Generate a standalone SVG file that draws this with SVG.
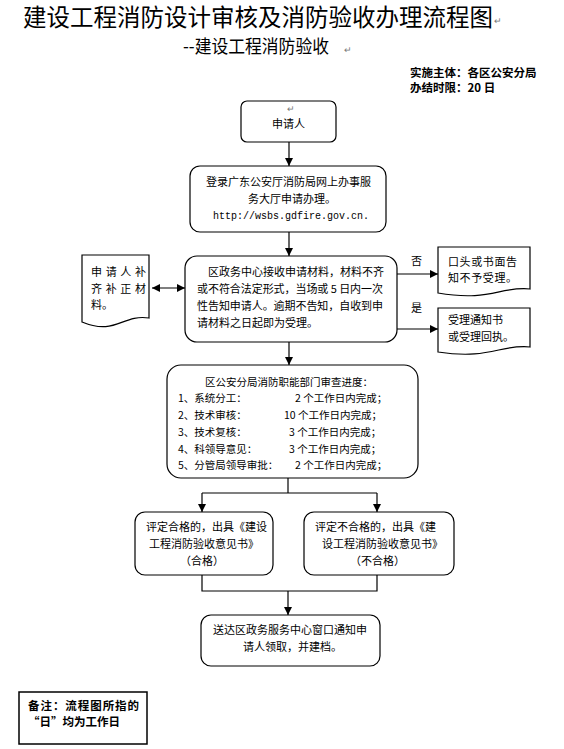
<svg xmlns="http://www.w3.org/2000/svg" width="564" height="749" viewBox="0 0 564 749">
<defs>
<marker id="ah" viewBox="0 0 10 10" refX="10" refY="5" markerWidth="8" markerHeight="8" markerUnits="userSpaceOnUse" orient="auto-start-reverse">
<path d="M0,0 L10,5 L0,10 Z" fill="#000"/>
</marker>
<style>
text{font-family:"Noto Sans CJK SC","Noto Sans",sans-serif;fill:#000}
.t{font-size:11px}
.s{font-size:10.5px}
.b{font-size:11.5px;font-weight:bold}
.m{font-family:"Liberation Mono","Noto Sans CJK SC",monospace;font-size:10px}
.pm{font-size:9px;fill:#777}
.box{fill:#fff;stroke:#000;stroke-width:1.2}
.ln{fill:none;stroke:#000;stroke-width:1.2}
.ar{fill:none;stroke:#000;stroke-width:1.2;marker-end:url(#ah)}
</style>
</defs>
<rect width="564" height="749" fill="#fff"/>
<g id="header">
<text x="23" y="26" style="font-size:23.5px">建设工程消防设计审核及消防验收办理流程图<tspan x="494" y="24" class="pm">↵</tspan></text>
<text x="183" y="53" style="font-size:18.5px" textLength="146" lengthAdjust="spacingAndGlyphs">--建设工程消防验收</text>
<text x="344" y="53" class="pm">↵</text>
<text x="410" y="77" class="b">实施主体：各区公安分局</text>
<text x="410" y="92" class="b">办结时限：20 日</text>
</g>
<g id="connectors">
<line x1="289" y1="142" x2="289" y2="166" class="ar"/>
<line x1="289" y1="232" x2="289" y2="256" class="ar"/>
<line x1="152" y1="288" x2="185" y2="288" class="ar" style="marker-start:url(#ah)"/>
<line x1="397" y1="274" x2="438" y2="274" class="ar"/>
<line x1="397" y1="329" x2="438" y2="329" class="ar"/>
<line x1="289" y1="342" x2="289" y2="365" class="ar"/>
<polyline points="288,478 288,493" class="ln"/>
<polyline points="202,493 377,493" class="ln"/>
<line x1="202" y1="493" x2="202" y2="512" class="ar"/>
<line x1="377" y1="493" x2="377" y2="512" class="ar"/>
<polyline points="202,575 202,591 377,591 377,575" class="ln"/>
<line x1="288" y1="591" x2="288" y2="615" class="ar"/>
<text x="411" y="265" class="t">否</text>
<text x="411" y="312" class="t">是</text>
</g>
<g id="applicant">
<rect x="241" y="101" width="95" height="41" rx="6" class="box"/>
<text x="287" y="112" class="pm">↵</text>
<text x="272" y="128" class="t">申请人</text>
</g>
<g id="online">
<rect x="190" y="166" width="196" height="66" rx="10" class="box"/>
<text x="206" y="186" class="t">登录广东公安厅消防局网上办事服</text>
<text x="248" y="203" class="t">务大厅申请办理。</text>
<text x="213" y="219" class="m">http://wsbs.gdfire.gov.cn.</text>
</g>
<g id="accept">
<rect x="185" y="256" width="212" height="86" rx="12" class="box"/>
<text x="208" y="276" class="t" textLength="176">区政务中心接收申请材料，材料不齐</text>
<text x="197" y="293" class="t" textLength="186">或不符合法定形式，当场或 5 日内一次</text>
<text x="197" y="310" class="t" textLength="186">性告知申请人。逾期不告知，自收到申</text>
<text x="197" y="327" class="t">请材料之日起即为受理。</text>
</g>
<g id="supplement">
<path d="M82,255 H149 V318 C122,314 116,336 82,322 Z" class="box"/>
<text x="91" y="276" class="t" textLength="55">申请人补</text>
<text x="91" y="293" class="t" textLength="55">齐补正材</text>
<text x="91" y="309" class="t">料。</text>
</g>
<g id="reject">
<path d="M438,247 H530 V289 C500,286 490,302 438,293 Z" class="box"/>
<text x="448" y="266" class="t" textLength="69">口头或书面告</text>
<text x="448" y="282" class="t" textLength="69">知不予受理。</text>
</g>
<g id="receipt">
<path d="M438,308 H530 V347 C500,344 490,360 438,352 Z" class="box"/>
<text x="448" y="324" class="t">受理通知书</text>
<text x="448" y="341" class="t">或受理回执。</text>
</g>
<g id="review">
<rect x="167" y="365" width="251" height="113" rx="14" class="box"/>
<text x="205" y="386" class="s">区公安分局消防职能部门审查进度：</text>
<text x="178" y="402" class="s">1、系统分工：</text>
<text x="295" y="402" class="s">2 个工作日内完成；</text>
<text x="178" y="419" class="s">2、技术审核：</text>
<text x="284" y="419" class="s">10 个工作日内完成；</text>
<text x="178" y="436" class="s">3、技术复核：</text>
<text x="289" y="436" class="s">3 个工作日内完成；</text>
<text x="178" y="453" class="s">4、科领导意见：</text>
<text x="289" y="453" class="s">3 个工作日内完成；</text>
<text x="178" y="469" class="s">5、分管局领导审批：</text>
<text x="295" y="469" class="s">2 个工作日内完成；</text>
</g>
<g id="pass">
<rect x="135" y="512" width="138" height="63" rx="10" class="box"/>
<text x="146" y="531" class="t">评定合格的，出具《建设</text>
<text x="149" y="548" class="t">工程消防验收意见书》</text>
<text x="180" y="565" class="t">（合格）</text>
</g>
<g id="fail">
<rect x="304" y="512" width="150" height="63" rx="10" class="box"/>
<text x="315" y="531" class="t">评定不合格的，出具《建</text>
<text x="322" y="548" class="t">设工程消防验收意见书》</text>
<text x="350" y="565" class="t">（不合格）</text>
</g>
<g id="deliver">
<rect x="201" y="615" width="179" height="51" rx="10" class="box"/>
<text x="213" y="634" class="t">送达区政务服务中心窗口通知申</text>
<text x="243" y="651" class="t">请人领取，并建档。</text>
</g>
<g id="note">
<rect x="19" y="692" width="128" height="52" fill="#fff" stroke="#000" stroke-width="1.5"/>
<text x="28" y="710" class="b" textLength="111">备注：流程图所指的</text>
<text x="28" y="726" class="b">“日”均为工作日</text>
</g>
</svg>
